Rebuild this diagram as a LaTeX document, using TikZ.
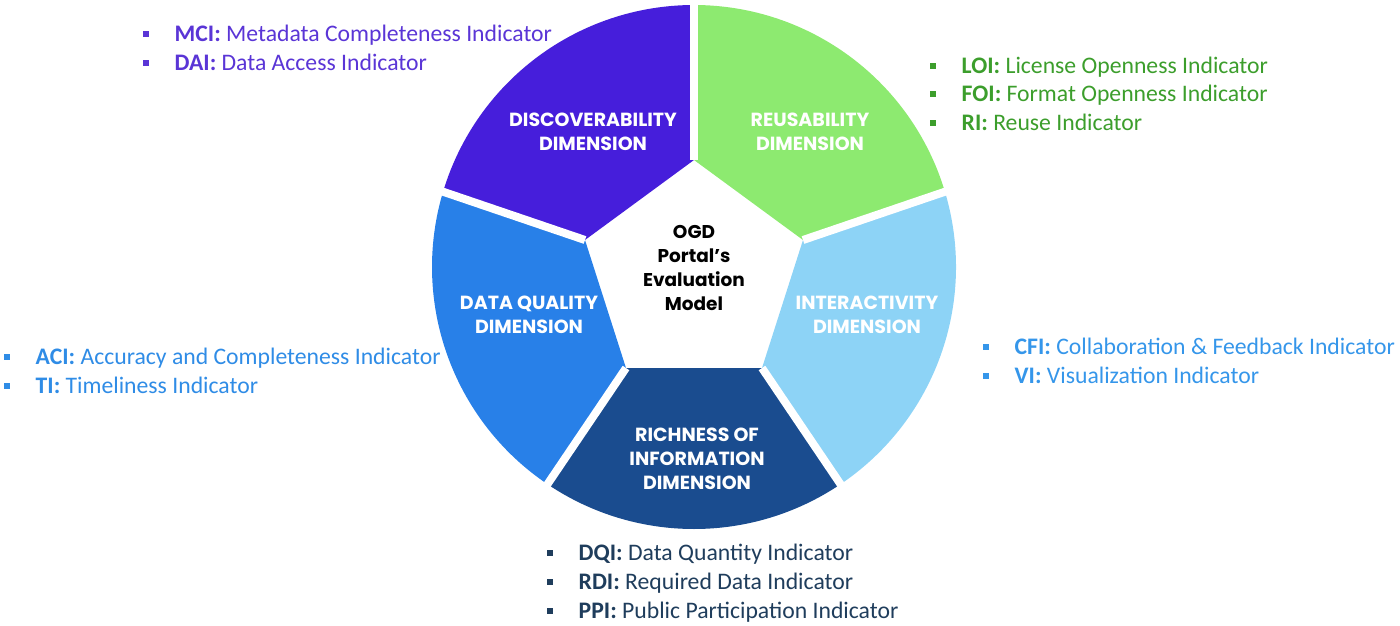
\documentclass[tikz,border=0pt]{standalone}
\usepackage{fontspec}
\setmainfont{Carlito}
\newfontfamily\titlefont{Poppins}
\usetikzlibrary{calc}
\definecolor{cpurple}{HTML}{461EDB}
\definecolor{cgreen}{HTML}{8DEA70}
\definecolor{clight}{HTML}{8DD3F6}
\definecolor{cdark}{HTML}{1A4C8F}
\definecolor{cblue}{HTML}{2880E8}
\definecolor{tpurple}{HTML}{5A35D6}
\definecolor{tgreen}{HTML}{3C9E2C}
\definecolor{tblue}{HTML}{2F8CE6}
\definecolor{tlight}{HTML}{3596EA}
\definecolor{tdark}{HTML}{1F3D5C}
\newcommand{\bul}{\rule[0.16em]{5.5pt}{6pt}\hspace{26pt}}
\tikzset{
  gap/.style={white,line width=8pt},
  dimtitle/.style={text=white,align=center,font=\titlefont\bfseries\fontsize{19}{24}\selectfont,inner sep=0pt},
  centertitle/.style={text=black,align=center,font=\titlefont\bfseries\fontsize{18.5}{24}\selectfont,inner sep=0pt},
  ind/.style={anchor=base west,inner sep=0pt,font=\fontsize{23.7}{28}\selectfont},
}
\begin{document}
\begin{tikzpicture}[x=1pt,y=-1pt]
\useasboundingbox (0,0) rectangle (1400,625);
\coordinate (C) at (694,267);
% pentagon vertices
\coordinate (V1) at (694,160);
\coordinate (V2) at (803,240);
\coordinate (V3) at (762,368);
\coordinate (V4) at (626,368);
\coordinate (V5) at (585,240);
% outer ends of gaps
\path (C) ++(270:262) coordinate (O1);
\path (C) ++(-16.7:262) coordinate (O2);
\path (C) ++(56:262) coordinate (O3);
\path (C) ++(124:262) coordinate (O4);
\path (C) ++(196.7:262) coordinate (O5);
% segments
\fill[cpurple] (V5) -- (O5) arc[start angle=196.7,end angle=270,radius=262] -- (V1) -- cycle;
\fill[cgreen] (V1) -- (O1) arc[start angle=270,end angle=343.3,radius=262] -- (V2) -- cycle;
\fill[clight] (V2) -- (O2) arc[start angle=-16.7,end angle=56,radius=262] -- (V3) -- cycle;
\fill[cdark] (V3) -- (O3) arc[start angle=56,end angle=124,radius=262] -- (V4) -- cycle;
\fill[cblue] (V4) -- (O4) arc[start angle=124,end angle=196.7,radius=262] -- (V5) -- cycle;
% gaps
\foreach \i in {1,...,5}{
  \draw[gap] (V\i) -- ($(V\i)!1.08!(O\i)$);
}
% titles
\node[dimtitle] (disc) at (593,131.5) {DISCOVERABILITY\\DIMENSION};
\node[dimtitle] (reus) at (810,131.5) {REUSABILITY\\DIMENSION};
\node[dimtitle] (dq) at (529,315) {DATA QUALITY\\DIMENSION};
\node[dimtitle] (inter) at (867,315) {INTERACTIVITY\\DIMENSION};
\node[dimtitle] (rich) at (697,459) {RICHNESS OF\\INFORMATION\\DIMENSION};
\node[centertitle] (ogd) at (694,268) {OGD\\Portal’s\\Evaluation\\Model};
% indicators
\node[ind,text=tpurple] (mci) at (143,41) {\bul\textbf{MCI:} Metadata Completeness Indicator};
\node[ind,text=tpurple] (dai) at (143,70) {\bul\textbf{DAI:} Data Access Indicator};
\node[ind,text=tgreen] (loi) at (930,73) {\bul\textbf{LOI:} License Openness Indicator};
\node[ind,text=tgreen] (foi) at (930,101) {\bul\textbf{FOI:} Format Openness Indicator};
\node[ind,text=tgreen] (ri) at (930,130) {\bul\textbf{RI:} Reuse Indicator};
\node[ind,text=tblue] (aci) at (4,364) {\bul\textbf{ACI:} Accuracy and Completeness Indicator};
\node[ind,text=tblue] (ti) at (4,393) {\bul\textbf{TI:} Timeliness Indicator};
\node[ind,text=tlight] (cfi) at (983,354) {\bul\textbf{CFI:} Collaboration \& Feedback Indicator};
\node[ind,text=tlight] (vi) at (983,383) {\bul\textbf{VI:} Visualization Indicator};
\node[ind,text=tdark] (dqi) at (547,560) {\bul\textbf{DQI:} Data Quantity Indicator};
\node[ind,text=tdark] (rdi) at (547,589) {\bul\textbf{RDI:} Required Data Indicator};
\node[ind,text=tdark] (ppi) at (547,618) {\bul\textbf{PPI:} Public Participation Indicator};
\end{tikzpicture}
\end{document}
